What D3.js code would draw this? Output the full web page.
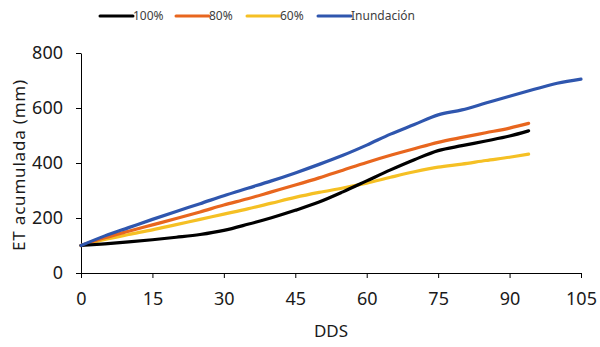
<!DOCTYPE html>
<html>
<head>
<meta charset="utf-8">
<script src="https://cdn.jsdelivr.net/npm/d3@7"></script>
<style>
  body { margin: 0; background: #fff; }
  svg { display: block; }
  .axis text { font-family: "Noto Sans", "Open Sans", sans-serif; font-size: 18px; fill: #1a1a1a; }
  .axis path, .axis line { stroke: #000; stroke-width: 1px; }
  .axis-title { font-family: "Noto Sans", "Open Sans", sans-serif; font-size: 17px; fill: #1a1a1a; }
  .legend text { font-family: "Noto Sans", "Open Sans", sans-serif; font-size: 12px; fill: #404040; }
</style>
</head>
<body>
<div id="chart-area"></div>
<script>

// DATA

var seriesNames = ["100%", "80%", "60%", "Inundación"];
var seriesColors = ["#000000", "#E8661E", "#F5C024", "#2F56AE"];

var daysShort = [0, 5, 10, 15, 20, 25, 30, 35, 40, 45, 50, 55, 60, 65, 70, 75, 80, 85, 90, 94];
var daysLong = [0, 5, 10, 15, 20, 25, 30, 35, 40, 45, 50, 55, 60, 65, 70, 75, 80, 85, 90, 95, 100, 105];

var et100 = [100, 106, 113, 121, 130, 140, 155, 177, 201, 228, 258, 295, 335, 375, 412, 445, 463, 480, 498, 517];
var et80 = [100, 128, 152, 175, 198, 222, 247, 270, 295, 320, 346, 374, 402, 428, 452, 475, 493, 510, 527, 544];
var et60 = [100, 122, 140, 157, 176, 195, 214, 233, 254, 275, 293, 309, 327, 348, 368, 385, 396, 409, 421, 432];
var etInund = [100, 135, 165, 195, 224, 252, 281, 308, 335, 364, 395, 428, 465, 505, 540, 575, 593, 618, 643, 667, 690, 705];

var xTicks = [0, 15, 30, 45, 60, 75, 90, 105];
var yTicks = [0, 200, 400, 600, 800];

// CHART AREA

var margin = {top: 53, right: 19, bottom: 74, left: 81},
    width = 600 - margin.left - margin.right,
    height = 347 - margin.top - margin.bottom;

var svg = d3.select("#chart-area").append("svg")
    .attr("width", 600)
    .attr("height", 347);

var g = svg.append("g")
    .attr("transform", "translate(" + margin.left + "," + margin.top + ")");

// SCALES + AXIS

var x = d3.scaleLinear().domain([0, 105]).range([0, width]);
var y = d3.scaleLinear().domain([0, 800]).range([height, 0]);

var xAxis = d3.axisBottom(x).tickValues(xTicks).tickSize(5).tickSizeOuter(0).tickPadding(14);
var yAxis = d3.axisLeft(y).tickValues(yTicks).tickSize(5).tickSizeOuter(0).tickPadding(13);

g.append("g")
    .attr("class", "x-axis axis")
    .attr("transform", "translate(0," + height + ")")
    .call(xAxis);

g.append("g")
    .attr("class", "y-axis axis")
    .call(yAxis);

// LINES

var series = [
    {name: seriesNames[0], color: seriesColors[0], days: daysShort, values: et100},
    {name: seriesNames[1], color: seriesColors[1], days: daysShort, values: et80},
    {name: seriesNames[2], color: seriesColors[2], days: daysShort, values: et60},
    {name: seriesNames[3], color: seriesColors[3], days: daysLong, values: etInund}
];

var line = d3.line()
    .curve(d3.curveMonotoneX)
    .x(function(d) { return x(d[0]); })
    .y(function(d) { return y(d[1]); });

// draw order: yellow, orange, black, blue on top
[2, 1, 0, 3].forEach(function(i) {
    var s = series[i];
    g.append("path")
        .datum(d3.zip(s.days, s.values))
        .attr("fill", "none")
        .attr("stroke", s.color)
        .attr("stroke-width", 3.2)
        .attr("stroke-linejoin", "round")
        .attr("stroke-linecap", "round")
        .attr("d", line);
});

// AXIS TITLES

svg.append("text")
    .attr("class", "axis-title")
    .attr("x", margin.left + width / 2)
    .attr("y", 337)
    .style("text-anchor", "middle")
    .text("DDS");

svg.append("text")
    .attr("class", "axis-title")
    .attr("transform", "translate(25," + (margin.top + height / 2 + 2) + ") rotate(-90)")
    .style("text-anchor", "middle")
    .style("letter-spacing", "0.8px")
    .text("ET acumulada (mm)");

// LEGEND

var legendX = [100, 176, 247, 318];
var legend = svg.append("g").attr("class", "legend");

series.forEach(function(s, i) {
    legend.append("line")
        .attr("x1", legendX[i]).attr("x2", legendX[i] + 33)
        .attr("y1", 16).attr("y2", 16)
        .attr("stroke", s.color)
        .attr("stroke-width", 3)
        .attr("stroke-linecap", "round");
    legend.append("text")
        .attr("x", legendX[i] + 33)
        .attr("y", 20)
        .text(s.name);
});

</script>
</body>
</html>
